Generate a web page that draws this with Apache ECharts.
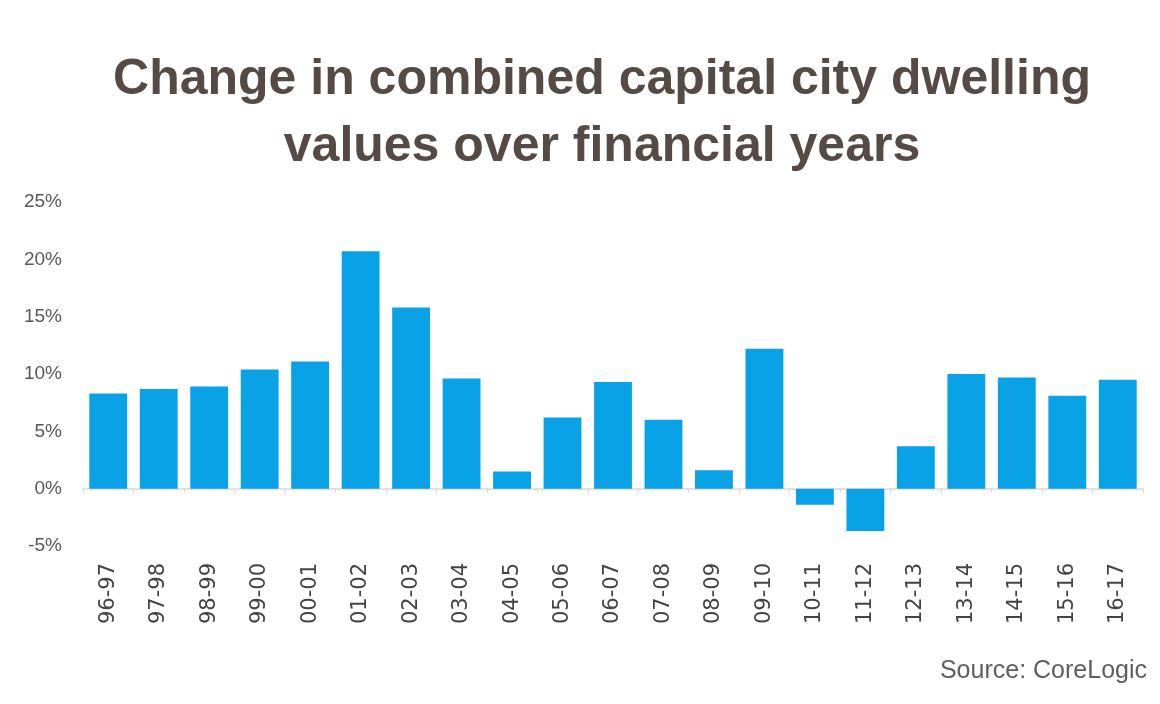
<!DOCTYPE html>
<html lang="en">
<head>
    <meta charset="UTF-8">
    <title>Dwelling values</title>
    <script src="https://cdn.jsdelivr.net/npm/echarts@6/dist/echarts.min.js"></script>
    <style>
        html, body {margin: 0; padding: 0; background: #fff;}
    </style>
</head>
<body>
<div id="main" style="width: 1160px;height:704px;"></div>
<script>
    // financial years
    var years = ['96-97', '97-98', '98-99', '99-00', '00-01', '01-02', '02-03', '03-04', '04-05', '05-06',
        '06-07', '07-08', '08-09', '09-10', '10-11', '11-12', '12-13', '13-14', '14-15', '15-16', '16-17'];
    // annual change, %
    var change = [8.3, 8.7, 8.9, 10.4, 11.1, 20.7, 15.8, 9.6, 1.5, 6.2,
        9.3, 6.0, 1.6, 12.2, -1.4, -3.7, 3.7, 10.0, 9.7, 8.1, 9.5];
    var yTicks = {min: -5, max: 25, step: 5};

    var myChart = echarts.init(document.getElementById('main'));
    var option = {
        backgroundColor: '#fff',
        animation: false,
        title: [{
            text: 'Change in combined capital city dwelling\nvalues over financial years',
            left: 597,
            textAlign: 'center',
            top: 42,
            textStyle: {
                color: '#564a45',
                fontFamily: 'Liberation Sans',
                fontWeight: 'bold',
                fontSize: 50,
                lineHeight: 67
            }
        }, {
            text: 'Source: CoreLogic',
            right: 8,
            top: 654,
            textStyle: {
                color: '#5f5f5f',
                fontFamily: 'Liberation Sans',
                fontWeight: 'normal',
                fontSize: 25
            }
        }],
        grid: {left: 83, right: 17, top: 202, bottom: 158},
        xAxis: [{
            // labels at the bottom
            type: 'category',
            data: years,
            position: 'bottom',
            axisLine: {show: false, onZero: false},
            axisTick: {show: false},
            axisLabel: {
                rotate: 90,
                margin: 17,
                color: '#444',
                fontFamily: 'DejaVu Sans',
                fontSize: 21
            }
        }, {
            // zero line with tick marks
            type: 'category',
            data: years,
            position: 'bottom',
            axisLine: {show: true, onZero: true, lineStyle: {color: '#d9d9d9', width: 1.5}},
            axisTick: {show: true, length: 4, inside: false, lineStyle: {color: '#d9d9d9'}},
            axisLabel: {show: false}
        }],
        yAxis: {
            type: 'value',
            min: yTicks.min,
            max: yTicks.max,
            interval: yTicks.step,
            axisLine: {show: false},
            axisTick: {show: false},
            splitLine: {show: false},
            axisLabel: {
                formatter: '{value}%',
                margin: 21,
                color: '#595959',
                fontFamily: 'Liberation Sans',
                fontSize: 19
            }
        },
        series: [{
            name: 'Change',
            type: 'bar',
            data: change,
            barCategoryGap: '25%',
            itemStyle: {color: '#09a2e6'}
        }]
    };
    myChart.setOption(option);
</script>
</body>
</html>
